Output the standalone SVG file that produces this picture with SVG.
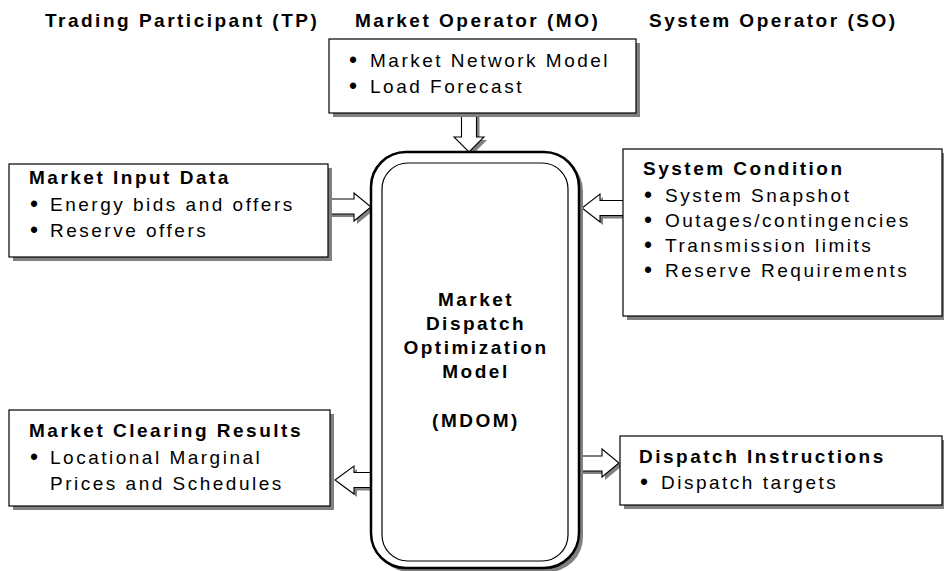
<svg xmlns="http://www.w3.org/2000/svg" width="944" height="571" viewBox="0 0 944 571">
<style>
text{font-family:"Liberation Sans",Arial,Helvetica,sans-serif;font-size:19px;fill:#000;letter-spacing:2.5px}
.b{font-weight:bold}
.c{text-anchor:middle}
.bu{font-size:23px;letter-spacing:0}
.box{fill:#fff;stroke:#000;stroke-width:1.2}
.sh{fill:#808080;stroke:none}
.arr{fill:#fff;stroke:#000;stroke-width:1.1;stroke-linejoin:miter}
</style>
<rect width="944" height="571" fill="#fff"/>
<g id="headers">
<text class="b" x="45" y="27">Trading Participant (TP)</text>
<text class="b" x="355" y="27">Market Operator (MO)</text>
<text class="b" x="649" y="27">System Operator (SO)</text>
</g>
<g id="connectors">
<path class="sh" d="M464.5,116 V140 H457 L472,155 L487,140 H479.5 V116 Z"/>
<path class="sh" d="M331,202 H357 V196 L374,210 L357,224 V217 H331 Z"/>
<path class="sh" d="M626,203.5 H603 V197 L585,211 L603,225 V218.5 H626 Z"/>
<path class="sh" d="M374,475.5 H357 V469 L338,483 L357,497 V490.5 H374 Z"/>
<path class="sh" d="M583,459 H605 V452 L622,466 L605,480 V474 H583 Z"/>
<path class="arr" d="M461.5,113 V137 H454 L469,152 L484,137 H476.5 V113"/>
<path class="arr" d="M328,199 H354 V193 L371,207 L354,221 V214 H328"/>
<path class="arr" d="M623,200.5 H600 V194 L582,208 L600,222 V215.5 H623"/>
<path class="arr" d="M371,472.5 H354 V466 L335,480 L354,494 V487.5 H371"/>
<path class="arr" d="M580,456 H602 V449 L619,463 L602,477 V471 H580"/>
</g>
<g id="mo-box">
<rect class="sh" x="333" y="43" width="307" height="74"/>
<rect class="box" x="329" y="39" width="307" height="74"/>
<text class="c bu" x="353" y="68">•</text>
<text x="370" y="67">Market Network Model</text>
<text class="c bu" x="353" y="94">•</text>
<text x="370" y="93">Load Forecast</text>
</g>
<g id="input-box">
<rect class="sh" x="13" y="168" width="319" height="93"/>
<rect class="box" x="9" y="164" width="319" height="93"/>
<text class="b" x="29" y="184">Market Input Data</text>
<text class="c bu" x="34" y="212">•</text>
<text x="50" y="211">Energy bids and offers</text>
<text class="c bu" x="34" y="238">•</text>
<text x="50" y="237">Reserve offers</text>
</g>
<g id="so-box">
<rect class="sh" x="627" y="153" width="319" height="167"/>
<rect class="box" x="623" y="149" width="319" height="167"/>
<text class="b" x="643" y="175">System Condition</text>
<text class="c bu" x="648" y="203">•</text>
<text x="665" y="202">System Snapshot</text>
<text class="c bu" x="648" y="228">•</text>
<text x="665" y="227">Outages/contingencies</text>
<text class="c bu" x="648" y="253">•</text>
<text x="665" y="252">Transmission limits</text>
<text class="c bu" x="648" y="278">•</text>
<text x="665" y="277">Reserve Requirements</text>
</g>
<g id="clearing-box">
<rect class="sh" x="13" y="414" width="321" height="96"/>
<rect class="box" x="9" y="410" width="321" height="96"/>
<text class="b" x="29" y="437">Market Clearing Results</text>
<text class="c bu" x="34" y="465">•</text>
<text x="50" y="464">Locational Marginal</text>
<text x="50" y="490">Prices and Schedules</text>
</g>
<g id="dispatch-box">
<rect class="sh" x="624" y="440" width="322" height="69"/>
<rect class="box" x="620" y="436" width="322" height="69"/>
<text class="b" x="639" y="463">Dispatch Instructions</text>
<text class="c bu" x="644" y="490">•</text>
<text x="661" y="489">Dispatch targets</text>
</g>
<g id="mdom">
<rect class="sh" x="375" y="156" width="208" height="416" rx="35"/>
<rect x="371" y="152" width="208" height="416" rx="35" fill="#fff" stroke="#000" stroke-width="2.5"/>
<rect x="382" y="163" width="186" height="398" rx="26" fill="none" stroke="#000" stroke-width="1.2"/>
<text class="b c" x="476" y="306">Market</text>
<text class="b c" x="476" y="330">Dispatch</text>
<text class="b c" x="476" y="354">Optimization</text>
<text class="b c" x="476" y="378">Model</text>
<text class="b c" x="476" y="427">(MDOM)</text>
</g>
</svg>
